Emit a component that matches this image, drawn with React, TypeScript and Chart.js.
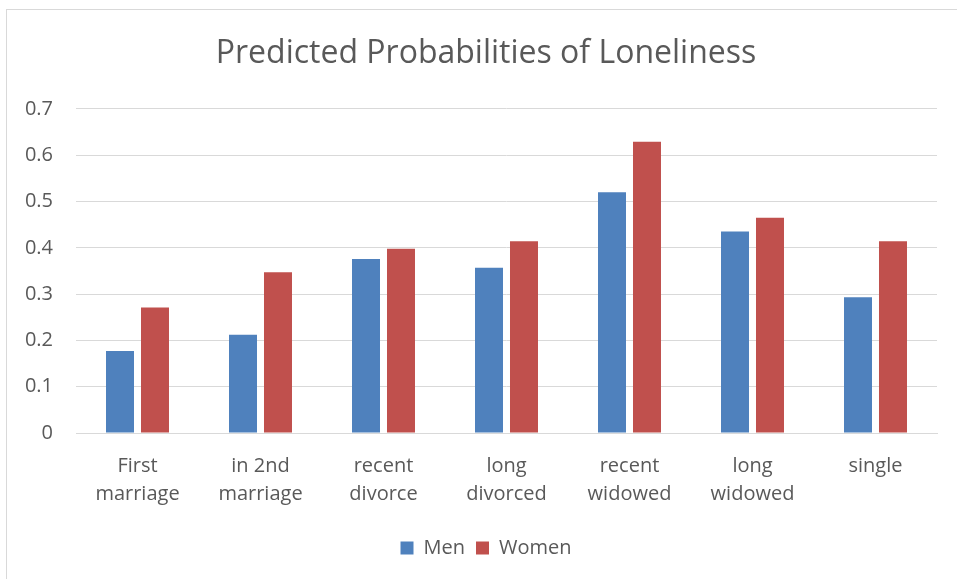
import React, { useEffect, useRef } from "react";
import { Chart, registerables } from "chart.js";

Chart.register(...registerables);

const categories: string[][] = [
  ["First", "marriage"],
  ["in 2nd", "marriage"],
  ["recent", "divorce"],
  ["long", "divorced"],
  ["recent", "widowed"],
  ["long", "widowed"],
  ["single"],
];
const menValues = [0.177, 0.212, 0.376, 0.357, 0.52, 0.435, 0.293];
const womenValues = [0.271, 0.347, 0.398, 0.414, 0.629, 0.465, 0.414];
const seriesNames = ["Men", "Women"];
const chartTitle = "Predicted Probabilities of Loneliness";

const FONT = "'Open Sans', 'DejaVu Sans', sans-serif";
const TEXT = "#595959";

export default function App() {
  const ref = useRef<HTMLCanvasElement | null>(null);
  useEffect(() => {
    if (!ref.current) return;
    const chart = new Chart(ref.current, {
      type: "bar",
      data: {
        labels: categories,
        datasets: [
          {
            label: seriesNames[0],
            data: menValues,
            backgroundColor: "#4F81BD",
            barPercentage: 0.8,
            categoryPercentage: 0.569,
            yAxisID: "y",
          },
          {
            label: seriesNames[1],
            data: womenValues,
            backgroundColor: "#C0504D",
            barPercentage: 0.8,
            categoryPercentage: 0.569,
            yAxisID: "y",
          },
        ],
      },
      options: {
        animation: false,
        responsive: false,
        maintainAspectRatio: false,
        layout: { padding: { left: 0, right: 0, top: 0, bottom: 12 } },
        plugins: {
          title: {
            display: true,
            text: chartTitle,
            color: TEXT,
            font: { family: FONT, size: 32, weight: "normal" },
            padding: { top: 25, bottom: 35.5 },
          },
          legend: {
            position: "bottom",
            labels: {
              color: TEXT,
              font: { family: FONT, size: 20 },
              boxWidth: 13,
              boxHeight: 13,
              padding: 11,
            },
          },
          tooltip: { enabled: false },
        },
        scales: {
          x: {
            grid: { display: false, drawTicks: false },
            border: { display: true, color: "#d9d9d9", width: 1 },
            ticks: {
              color: TEXT,
              font: { family: FONT, size: 20, lineHeight: 1.4 },
              padding: 19,
              maxRotation: 0,
              autoSkip: false,
            },
          },
          y: {
            position: "left",
            min: 0,
            max: 0.7,
            afterFit: (scale: any) => {
              scale.width = 69;
            },
            grid: { color: "#d9d9d9", lineWidth: 1, drawTicks: false },
            border: { display: false },
            ticks: {
              stepSize: 0.1,
              color: TEXT,
              font: { family: FONT, size: 20 },
              padding: 23,
              callback: (v: any) => String(Math.round(Number(v) * 10) / 10),
            },
          },
          yRight: {
            position: "right",
            display: true,
            min: 0,
            max: 0.7,
            afterFit: (scale: any) => {
              scale.width = 28;
            },
            grid: { display: false, drawTicks: false },
            border: { display: false },
            ticks: { display: false },
          },
        },
      },
    });
    return () => chart.destroy();
  }, []);

  return (
    <div
      style={{
        position: "absolute",
        left: 0,
        top: 0,
        width: 957,
        height: 579,
        overflow: "hidden",
      }}
    >
      <div
        style={{
          position: "absolute",
          left: 6,
          top: 9,
          width: 958,
          height: 570,
          border: "1px solid #d9d9d9",
          background: "#fff",
        }}
      >
        <canvas ref={ref} width={958} height={570} style={{ display: "block" }} />
      </div>
    </div>
  );
}
